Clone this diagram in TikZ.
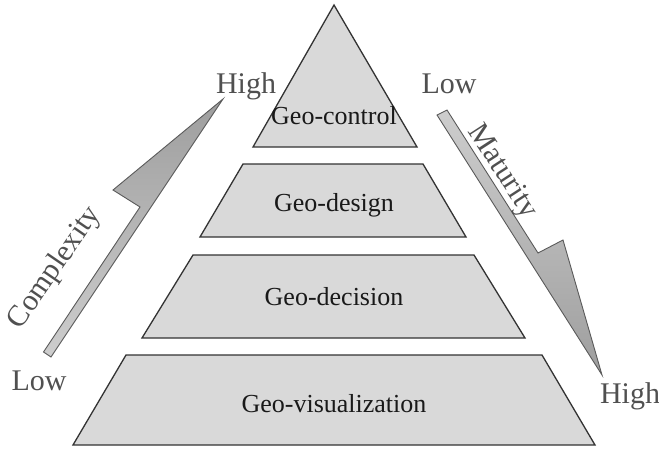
\documentclass[tikz,border=0pt]{standalone}
\usepackage{fontspec}
\setmainfont{Liberation Serif}
\definecolor{layerfill}{HTML}{D9D9D9}
\definecolor{layerline}{HTML}{333333}
\definecolor{scalegray}{HTML}{505050}
\definecolor{arrowline}{HTML}{5A5A5A}
\definecolor{arrowlight}{HTML}{CDCDCD}
\definecolor{arrowdark}{HTML}{9E9E9E}
\begin{document}
\begin{tikzpicture}[x=1pt,y=-1pt,
  layer/.style={draw=layerline, fill=layerfill, line width=1.3pt, line join=miter},
  layertext/.style={font=\fontsize{26}{30}\selectfont, text=black!90, anchor=base, inner sep=0pt},
  scaletext/.style={font=\fontsize{30}{34}\selectfont, text=scalegray, anchor=base, inner sep=0pt},
  axisarrow/.style={draw=arrowline, line width=0.9pt, line join=miter}]
\useasboundingbox (0,0) rectangle (659,450);

% pyramid levels, from the apex down
\draw[layer] (334,5) -- (417,147) -- (253,147) -- cycle;
\draw[layer] (243,164) -- (423,164) -- (466,237) -- (200,237) -- cycle;
\draw[layer] (193,255) -- (474,255) -- (525,338) -- (142,338) -- cycle;
\draw[layer] (126,355) -- (542,355) -- (595,445) -- (73,445) -- cycle;

\node[layertext] (control) at (334,124) {Geo-control};
\node[layertext] (design)  at (334,211) {Geo-design};
\node[layertext] (decision) at (334,305) {Geo-decision};
\node[layertext] (visual)  at (334,412) {Geo-visualization};

% complexity scale on the left (one-sided arrow head)
\draw[axisarrow, top color=arrowdark, bottom color=arrowlight]
  (43.5,352) -- (140,207) -- (113,190) -- (223,99) -- (51,357) -- cycle;
\node[scaletext, rotate=55.5, anchor=center] (complexity) at (55,268) {Complexity};
\node[scaletext] (clow)  at (39,390) {Low};
\node[scaletext] (chigh) at (246,93) {High};

% maturity scale on the right (one-sided arrow head)
\draw[axisarrow, top color=arrowlight, bottom color=arrowdark]
  (437,115) -- (447,110) -- (538,253) -- (563,240) -- (602,375) -- cycle;
\node[scaletext, rotate=-57, anchor=center] (maturity) at (502,172) {Maturity};
\node[scaletext] (mlow)  at (449,93) {Low};
\node[scaletext] (mhigh) at (630,403) {High};
\end{tikzpicture}
\end{document}
